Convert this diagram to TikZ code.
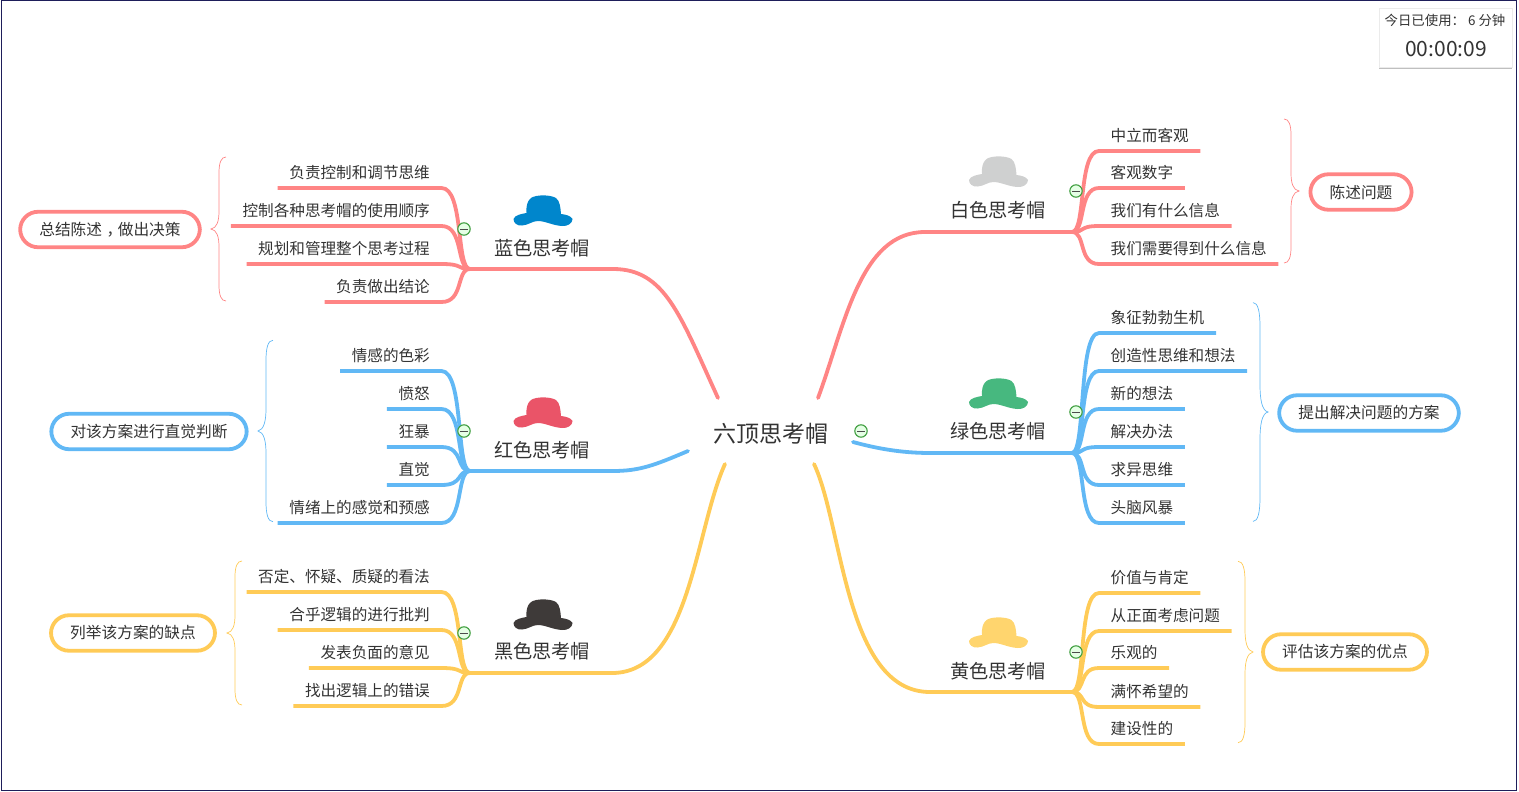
\documentclass[tikz,border=0pt]{standalone}
\usepackage{fontspec}
\setmainfont{Noto Sans CJK SC}
\usetikzlibrary{shadows}
\definecolor{linepink}{HTML}{FF8585}
\definecolor{lineblue}{HTML}{61B8F5}
\definecolor{lineyellow}{HTML}{FFCB57}
\definecolor{inkgray}{HTML}{333333}
\definecolor{framenavy}{HTML}{1E1E5A}
\definecolor{hatgray}{HTML}{CFD0D0}
\definecolor{hatgreen}{HTML}{47B87F}
\definecolor{hatyellow}{HTML}{FFD56E}
\definecolor{hatblue}{HTML}{0086CC}
\definecolor{hatred}{HTML}{EA5468}
\definecolor{hatblack}{HTML}{3E3A39}
\tikzset{
  branch/.style={line width=3.8pt,line cap=round},
  twig/.style={line width=3.8pt,line cap=butt},
  leafr/.style={anchor=south west,inner xsep=11.5pt,inner ysep=6.5pt,text height=13pt,text depth=3pt,font=\fontsize{15.6pt}{16pt}\selectfont,text=inkgray},
  leafl/.style={anchor=south east,inner xsep=11.5pt,inner ysep=6.5pt,text height=13pt,text depth=3pt,font=\fontsize{15.6pt}{16pt}\selectfont,text=inkgray},
  topic/.style={font=\fontsize{19.2pt}{20pt}\selectfont,text=inkgray},
  summary/.style={draw=#1,line width=3.8pt,rounded corners=18pt,minimum height=35.5pt,inner xsep=19.2pt,inner ysep=0pt,font=\fontsize{15.7pt}{16pt}\selectfont,text=inkgray,fill=white},
  hat/.pic={
    \path[pic actions] (-29.5,8) .. controls (-28,4) and (-22,3) .. (-16.5,2)
      .. controls (-17,-4) and (-16,-10) .. (-12,-13)
      .. controls (-7,-16.5) and (7,-16.5) .. (13,-13)
      .. controls (17,-10) and (17.5,-3) .. (18,3)
      .. controls (23,3.5) and (28,5) .. (29.5,8)
      .. controls (29.5,12) and (25,15.5) .. (19,15)
      .. controls (10,14.5) and (2,10) .. (-5,10)
      .. controls (-11,10) and (-14,14) .. (-21,14.5)
      .. controls (-26,15) and (-29.5,12) .. (-29.5,8) -- cycle;
  },
  sumbrace/.pic={
    \path[pic actions,line width=0.7pt] (0,-72) .. controls (5,-72) and (7,-66) .. (7,-56)
      -- (7,-18) .. controls (7,-8) and (9,-1) .. (15,0)
      .. controls (9,1) and (7,8) .. (7,18) -- (7,56)
      .. controls (7,66) and (5,72) .. (0,72);
  },
  collapse/.pic={
    \draw[draw=green!50!black!75,fill=green!10!white,line width=1.1pt] (0,0) circle (6.2);
    \draw[black!70,line width=0.9pt] (-4,0) -- (4,0);
  }
}
\begin{document}
\begin{tikzpicture}[x=1pt,y=-1pt]
  \useasboundingbox (0,0) rectangle (1519,792);
  \draw[framenavy,line width=1pt] (1,1) rectangle (1516,790);

  \node[font=\fontsize{23pt}{24pt}\selectfont,text=inkgray] (root) at (771,433.5) {六顶思考帽};
  \coordinate (rootwhite) at (818,398);
  \coordinate (rootgreen) at (853,442);
  \coordinate (rootyellow) at (814,464);
  \coordinate (rootblue) at (718,398);
  \coordinate (rootred) at (688,451);
  \coordinate (rootblack) at (725,464);
  \coordinate (jwhite) at (1072,232);
  \coordinate (jgreen) at (1072,453);
  \coordinate (jyellow) at (1072,692);
  \coordinate (jblue) at (470,269);
  \coordinate (jred) at (470,471);
  \coordinate (jblack) at (470,673);

  \draw[branch,linepink] (rootwhite) .. controls (845,325) and (860,232) .. (925,232) -- (jwhite);
  \draw[branch,lineblue] (rootgreen) .. controls (875,448) and (900,453) .. (930,453) -- (jgreen);
  \draw[branch,lineyellow] (rootyellow) .. controls (843,525) and (845,692) .. (930,692) -- (jyellow);
  \draw[branch,linepink] (rootblue) .. controls (680,315) and (665,269) .. (613,269) -- (jblue);
  \draw[branch,lineblue] (rootred) .. controls (655,465) and (640,471) .. (613,471) -- (jred);
  \draw[branch,lineyellow] (rootblack) .. controls (695,530) and (690,673) .. (612,673) -- (jblack);

  % right side
  \foreach \n/\y/\t in {1/151/中立而客观,2/188/客观数字,3/226/我们有什么信息,4/264/我们需要得到什么信息} {
    \node[leafr] (white\n) at (1099,\y) {\t};
    \draw[twig,linepink] (jwhite) .. controls (1086,232) and (1078,\y) .. (white\n.south west) -- (white\n.south east);
  }
  \foreach \n/\y/\t in {1/333/象征勃勃生机,2/371/创造性思维和想法,3/409/新的想法,4/447/解决办法,5/485/求异思维,6/523/头脑风暴} {
    \node[leafr] (green\n) at (1099,\y) {\t};
    \draw[twig,lineblue] (jgreen) .. controls (1086,453) and (1078,\y) .. (green\n.south west) -- (green\n.south east);
  }
  \foreach \n/\y/\t in {1/593/价值与肯定,2/631/从正面考虑问题,3/668/乐观的,4/707/满怀希望的,5/744/建设性的} {
    \node[leafr] (yellow\n) at (1099,\y) {\t};
    \draw[twig,lineyellow] (jyellow) .. controls (1086,692) and (1078,\y) .. (yellow\n.south west) -- (yellow\n.south east);
  }

  % left side
  \foreach \n/\y/\t in {1/188/负责控制和调节思维,2/226/控制各种思考帽的使用顺序,3/264/规划和管理整个思考过程,4/302/负责做出结论} {
    \node[leafl] (blue\n) at (441.5,\y) {\t};
    \draw[twig,linepink] (jblue) .. controls (456,269) and (464,\y) .. (blue\n.south east) -- (blue\n.south west);
  }
  \foreach \n/\y/\t in {1/371/情感的色彩,2/409/愤怒,3/447/狂暴,4/485/直觉,5/523/情绪上的感觉和预感} {
    \node[leafl] (red\n) at (441.5,\y) {\t};
    \draw[twig,lineblue] (jred) .. controls (456,471) and (464,\y) .. (red\n.south east) -- (red\n.south west);
  }
  \foreach \n/\y/\t in {1/592/否定、怀疑、质疑的看法,2/630/合乎逻辑的进行批判,3/668/发表负面的意见,4/706/找出逻辑上的错误} {
    \node[leafl] (black\n) at (441.5,\y) {\t};
    \draw[twig,lineyellow] (jblack) .. controls (456,673) and (464,\y) .. (black\n.south east) -- (black\n.south west);
  }

  % hats and topics
  \pic[fill=hatgray] at (998.5,172) {hat};
  \node[topic] (twhite) at (998,210.5) {白色思考帽};
  \pic[fill=hatgreen] at (998.5,394) {hat};
  \node[topic] (tgreen) at (998,431.5) {绿色思考帽};
  \pic[fill=hatyellow] at (998.5,633) {hat};
  \node[topic] (tyellow) at (998,671.5) {黄色思考帽};
  \pic[fill=hatblue] at (543,211) {hat};
  \node[topic] (tblue) at (542,248.5) {蓝色思考帽};
  \pic[fill=hatred] at (543,413) {hat};
  \node[topic] (tred) at (542,450.5) {红色思考帽};
  \pic[fill=hatblack] at (543,615) {hat};
  \node[topic] (tblack) at (542,651.5) {黑色思考帽};

  % braces
  \pic[draw=linepink] at (1284,191) {sumbrace};
  \pic[draw=lineblue,yscale=1.52] at (1253,412) {sumbrace};
  \pic[draw=lineyellow,yscale=1.26] at (1238,652) {sumbrace};
  \pic[draw=linepink,xscale=-1] at (226,229) {sumbrace};
  \pic[draw=lineblue,xscale=-1,yscale=1.26] at (273,431) {sumbrace};
  \pic[draw=lineyellow,xscale=-1] at (242,633) {sumbrace};

  \node[summary=linepink] (swhite) at (1361,192) {陈述问题};
  \node[summary=lineblue] (sgreen) at (1369,413) {提出解决问题的方案};
  \node[summary=lineyellow] (syellow) at (1345,652) {评估该方案的优点};
  \node[summary=linepink] (sblue) at (110,229.5) {总结陈述{\kern4.5pt ，\kern-4.5pt}做出决策};
  \node[summary=lineblue] (sred) at (149,431.5) {对该方案进行直觉判断};
  \node[summary=lineyellow] (sblack) at (133,633) {列举该方案的缺点};

  \foreach \x/\y in {1076/191,1076/412,1076/652,861/431,464/229,464/431,464/633}
    \pic at (\x,\y) {collapse};

  % timer
  \node[fill=white,draw=black!8,line width=0.6pt,minimum width=133pt,minimum height=59pt,drop shadow={shadow xshift=0pt,shadow yshift=-2pt,opacity=0.5}] (timer) at (1445.5,37.5) {};
  \node[font=\fontsize{13.4pt}{14pt}\selectfont,text=inkgray] (today) at (1445,20.5) {今日已使用： 6 分钟};
  \node[font=\fontsize{21pt}{22pt}\selectfont,text=inkgray] (clock) at (1446,49.5) {00:00:09};
\end{tikzpicture}
\end{document}
